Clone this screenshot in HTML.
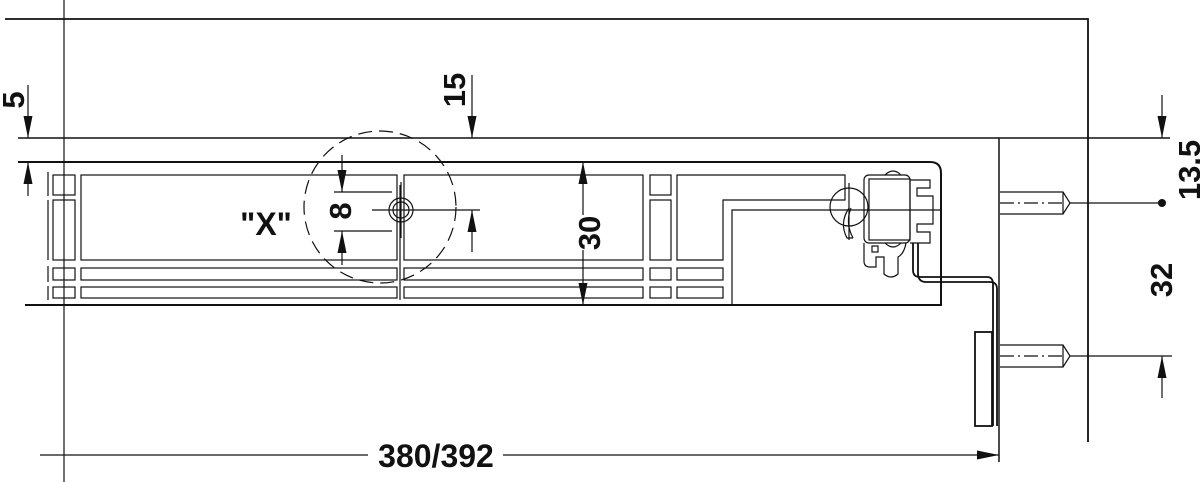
<!DOCTYPE html>
<html><head><meta charset="utf-8"><style>
html,body{margin:0;padding:0;background:#fff;}
svg{display:block;}
text{font-family:"Liberation Sans",Arial,sans-serif;font-weight:bold;fill:#111;}
</style></head><body>
<svg width="1200" height="482" viewBox="0 0 1200 482" xmlns="http://www.w3.org/2000/svg">
<defs>
<marker id="a" markerWidth="24" markerHeight="10" refX="22" refY="5" orient="auto" markerUnits="userSpaceOnUse" viewBox="0 0 24 10">
<path d="M0,0.5 L22,5 L0,9.5 Z" fill="#111"/></marker>
</defs>
<g stroke="#111" fill="none" stroke-width="1.2">
<line x1="64" y1="0" x2="64" y2="482"/>
<polyline points="5,19 1088,19 1088,442" stroke-width="1.8"/>
<line x1="18" y1="138" x2="1170" y2="138" stroke-width="1.5"/>
<line x1="999" y1="138" x2="999" y2="462" stroke-width="1.5"/>
<path d="M18,162 H930 Q941,162 941,173 V305 H25" stroke-width="2"/>
<line x1="48" y1="172" x2="48" y2="196"/><line x1="48" y1="200" x2="48" y2="260"/>
<line x1="48" y1="266" x2="48" y2="282"/><line x1="48" y1="286" x2="48" y2="300"/>
<rect x="53" y="175" width="22" height="20"/><rect x="53" y="200" width="22" height="60"/>
<rect x="53" y="268" width="22" height="12"/><rect x="53" y="287" width="22" height="11"/>
<rect x="81" y="175" width="316" height="85"/>
<rect x="81" y="268" width="316" height="12"/><rect x="81" y="287" width="316" height="11"/>
<line x1="400" y1="185" x2="400" y2="300"/>
<rect x="404" y="175" width="239" height="85"/>
<rect x="404" y="268" width="239" height="12"/><rect x="404" y="287" width="239" height="11"/>
<rect x="650" y="175" width="21" height="20"/><rect x="650" y="200" width="21" height="60"/>
<rect x="650" y="268" width="21" height="12"/><rect x="650" y="287" width="21" height="11"/>
<path d="M677,260 V175 H845 V200 H723 V260 Z"/>
<rect x="677" y="268" width="46" height="12"/><rect x="677" y="287" width="46" height="11"/>
<path d="M732,305 V210 H941"/>
<circle cx="849" cy="207" r="19"/>
<line x1="849" y1="183" x2="849" y2="240"/>
<path d="M849,208 q-10,15 -2,30 h6 M851,208 q-6,15 2,30"/>
<rect x="864" y="175" width="46" height="68" rx="5"/>
<rect x="869" y="179" width="41" height="61"/>
<path d="M885,175 q8,-8 16,0 M885,243 q8,8 16,0"/>
<path d="M910,180 h20 v8 h-13 v8 h16 v28 h-16 v8 h13 v11 h-20"/>
<path d="M864,243 v18 q0,6 6,6 h6 v-10 h8 v17 q7,6 14,0 v-17 q6,-3 8,-14"/>
<rect x="872" y="246" width="6" height="6"/>
<path d="M913,243 V270 Q913,277 920,277 H987 Q993,277 993,284 V426" stroke-width="1.8"/>
<path d="M918,243 V273 Q918,282 926,282 H990 Q997,282 997,289 V426" stroke-width="1.8"/>
<rect x="975" y="332" width="17" height="94" stroke-width="1.8"/>
<path d="M1000,192 H1063 L1070,203 L1063,214 H1000"/>
<line x1="1000" y1="203" x2="1063" y2="203" stroke-dasharray="14,4,2,4"/>
<line x1="1070" y1="203" x2="1162" y2="203"/>
<line x1="1063" y1="192" x2="1063" y2="214"/>
<path d="M1000,345 H1063 L1070,356 L1063,367 H1000"/>
<line x1="1000" y1="356" x2="1063" y2="356" stroke-dasharray="14,4,2,4"/>
<line x1="1070" y1="356" x2="1172" y2="356"/>
<line x1="1063" y1="345" x2="1063" y2="367"/>
<circle cx="380" cy="207" r="76" stroke-dasharray="14,7"/>
<circle cx="401" cy="210" r="12"/><circle cx="401" cy="210" r="8"/>
<line x1="372" y1="210" x2="480" y2="210"/>
<line x1="401" y1="182" x2="401" y2="238"/>
<line x1="334" y1="192" x2="392" y2="192"/>
<line x1="334" y1="231" x2="392" y2="231"/>
<line x1="28" y1="85" x2="28" y2="138" marker-end="url(#a)"/>
<line x1="28" y1="196" x2="28" y2="162" marker-end="url(#a)"/>
<line x1="472" y1="75" x2="472" y2="138" marker-end="url(#a)"/>
<line x1="342" y1="155" x2="342" y2="192" marker-end="url(#a)"/>
<line x1="342" y1="265" x2="342" y2="231" marker-end="url(#a)"/>
<line x1="472" y1="252" x2="472" y2="210" marker-end="url(#a)"/>
<line x1="583" y1="215" x2="583" y2="162" marker-end="url(#a)"/>
<line x1="583" y1="250" x2="583" y2="305" marker-end="url(#a)"/>
<line x1="1162" y1="95" x2="1162" y2="138" marker-end="url(#a)"/>
<line x1="1162" y1="398" x2="1162" y2="356" marker-end="url(#a)"/>
<line x1="40" y1="455" x2="368" y2="455"/>
<line x1="503" y1="455" x2="999" y2="455" marker-end="url(#a)"/>
</g>
<circle cx="1162" cy="203" r="4" fill="#111"/>
<text font-size="31" transform="translate(24,100) rotate(-90)" text-anchor="middle">5</text>
<text font-size="31" transform="translate(465,90) rotate(-90)" text-anchor="middle">15</text>
<text font-size="31" transform="translate(351,211) rotate(-90)" text-anchor="middle">8</text>
<text font-size="31" transform="translate(600,233) rotate(-90)" text-anchor="middle">30</text>
<text font-size="31" transform="translate(1200,170) rotate(-90)" text-anchor="middle">13.5</text>
<text font-size="31" transform="translate(1172,280) rotate(-90)" text-anchor="middle">32</text>
<text x="266" y="235" font-size="32" text-anchor="middle">"X"</text>
<text x="436" y="467" font-size="32" text-anchor="middle">380/392</text>
</svg>
</body></html>
